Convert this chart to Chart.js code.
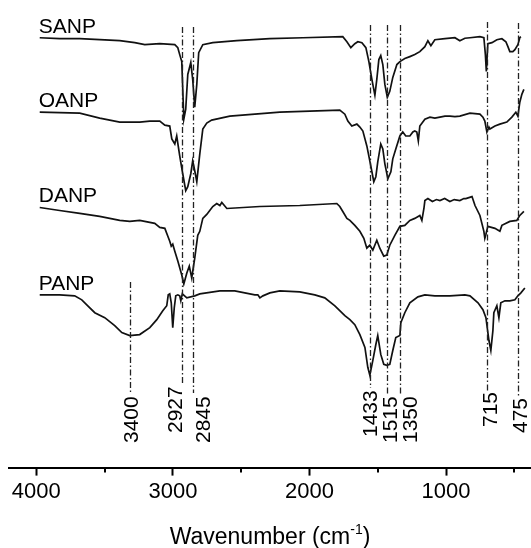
<!DOCTYPE html>
<html>
<head>
<meta charset="utf-8">
<script src="https://cdn.jsdelivr.net/npm/chart.js@4.4.0/dist/chart.umd.min.js"></script>
<style>
  html, body { margin: 0; padding: 0; background: #fff; }
  #wrap { width: 531px; height: 548px; }
</style>
</head>
<body>
<div id="wrap"><canvas id="ftir" width="531" height="548"></canvas></div>
<script>
// FTIR spectra: x = wavenumber (cm-1), y = stacked transmittance (a.u.)
const seriesNames = ['SANP', 'OANP', 'DANP', 'PANP'];

const sanpX = [3975,3829,3682,3389,3279,3206,3096,2986,2964,2950,2935,2920,2906,2891,2869,2855,2840,2825,2811,2781,2708,2532,2290,2048,1756,1726,1697,1668,1646,1616,1587,1565,1543,1521,1507,1492,1478,1463,1448,1430,1412,1390,1360,1338,1302,1265,1229,1192,1155,1133,1111,1082,1008,935,899,862,825,752,723,712,705,694,664,628,591,562,547,533,511,496,474,460,452];
const sanpY = [433,432,432,430,428,426,427,426,423,416,409,351,361,396,408,391,363,386,418,426,428,430,432,433,434,429,423,427,429,428,423,409,391,375,391,411,415,406,386,373,379,393,406,409,412,414,416,419,424,430,425,431,432,433,430,432.5,433,434,433,416,399,427,428,431,432,429,424,419,419,421,426,433,434];

const oanpX = [3975,3682,3536,3389,3243,3169,3096,3059,3023,3008,2986,2972,2950,2928,2906,2891,2869,2855,2840,2825,2811,2803,2781,2752,2716,2583,2217,1778,1741,1719,1690,1653,1631,1609,1580,1551,1529,1514,1500,1478,1463,1448,1426,1404,1390,1368,1338,1317,1295,1265,1243,1229,1214,1203,1192,1155,1118,1082,1045,1008,972,935,899,825,752,730,716,701,686,679,642,606,555,518,489,474,460,445,430];
const oanpY = [358,357,352,348,348,349,349,345,344,331,326,334,314,296,279,283,296,309,299,288,306,316,341,347,350,354,358,360,356,349,344,346,343,339,324,304,288,293,308,326,321,306,291,298,311,321,334,338,334,334,338,339,338,329,344,351,353,352,353,354,354,353.5,354,357,356,353,349,338,343,341,344,346,348,353,358,354,368,376,381];

const danpX = [3975,3829,3682,3536,3389,3316,3243,3133,3096,3059,3037,3023,3012,3001,2986,2964,2935,2920,2898,2880,2862,2840,2818,2803,2781,2752,2730,2708,2679,2656,2642,2605,2363,2071,1800,1778,1756,1726,1704,1668,1631,1602,1580,1558,1536,1507,1485,1456,1434,1412,1375,1338,1302,1265,1229,1192,1177,1162,1155,1133,1100,1070,1045,1010,972,940,899,870,855,810,788,752,723,716,708,694,642,606,591,533,482,460,430];
const danpY = [262,259,256,253,249,248,249,246,242,241,233,228,223,225,218,208,194,185,196,203,191,211,234,238,251,255,259,263,266,264,267,261,263,264,266,263,258,251,249,244,238,231,221,224,219,229,221,213,214,224,234,243,244,249,251,254,249,261,269,271,268,270,269,271,268,270,269,271,271,273,264,254,238,231,235,243,241,238,244,248,249,254,258];

const panpX = [3975,3829,3719,3667,3623,3572,3499,3426,3374,3316,3243,3169,3118,3074,3045,3034,3023,3012,3001,2990,2979,2964,2950,2942,2931,2898,2840,2803,2656,2547,2400,2378,2363,2341,2290,2217,2071,1961,1888,1814,1741,1704,1668,1631,1594,1573,1558,1536,1514,1500,1478,1456,1434,1412,1390,1368,1338,1331,1302,1265,1206,1155,1082,972,862,825,766,730,708,686,672,657,650,628,613,599,569,533,496,474,452,423];
const panpY = [174,174,173,169,163,156,151,143,136,133,134,141,149,158,163,174,175,166,141,161,173,174,173,168,175,171,173,175,178,178,174,174,171,173,176,178,177,174,171,163,153,149,144,134,121,101,93,108,124,133,114,104,103,104,118,131,133,146,156,166,172,174,173,173,174,173,166,159,151,128,118,138,156,163,151,166,168,168,169,173,176,181];

// dash-dot marker lines and the band labels printed under them
const markerX = [3316, 2930, 2850, 1558, 1434, 1338, 701, 474];
const markerLabels = ['3400', '2927', '2845', '1433', '1515', '1350', '715', '475'];

const tickValues = [4000, 3500, 3000, 2500, 2000, 1500, 1000, 500];

const FONT = '"Liberation Sans", Arial, sans-serif';
Chart.defaults.font.family = FONT;
Chart.defaults.color = '#000';

const xs = [sanpX, oanpX, danpX, panpX];
const ys = [sanpY, oanpY, danpY, panpY];

const datasets = seriesNames.map((name, k) => ({
    label: name,
    data: xs[k].map((x, i) => ({ x: x, y: ys[k][i] })),
    borderColor: '#111',
    borderWidth: 1.7,
    pointRadius: 0,
    tension: 0,
    fill: false
}));

// per-marker drawing geometry (pixels): line top / bottom, label start, label shift
const markerStyle = [
    { top: 282, bottom: 392, base: 443, dx: 8 },
    { top: 27, bottom: 385, base: 433, dx: 0 },
    { top: 27, bottom: 393, base: 443, dx: 17 },
    { top: 25, bottom: 388, base: 437, dx: 7 },
    { top: 25, bottom: 396, base: 443, dx: 10 },
    { top: 25, bottom: 396, base: 443, dx: 17 },
    { top: 22, bottom: 391, base: 427, dx: 10 },
    { top: 23, bottom: 396, base: 433, dx: 9 }
];

const overlay = {
    id: 'overlay',
    afterDatasetsDraw(chart) {
        const ctx = chart.ctx;
        const sx = chart.scales.x, sy = chart.scales.y;
        ctx.save();

        // marker lines
        ctx.strokeStyle = '#222';
        ctx.lineWidth = 1.3;
        ctx.setLineDash([6, 2.5, 1.5, 2.5]);
        markerX.forEach((w, i) => {
            const px = Math.round(sx.getPixelForValue(w)) + 0.5;
            const s = markerStyle[i];
            ctx.beginPath();
            ctx.moveTo(px, s.top);
            ctx.lineTo(px, s.bottom);
            ctx.stroke();
        });
        ctx.setLineDash([]);

        // rotated band labels
        ctx.fillStyle = '#000';
        ctx.font = '21px ' + FONT;
        ctx.textAlign = 'left';
        ctx.textBaseline = 'alphabetic';
        markerX.forEach((w, i) => {
            const s = markerStyle[i];
            ctx.save();
            ctx.translate(sx.getPixelForValue(w) + s.dx, s.base);
            ctx.rotate(-Math.PI / 2);
            ctx.fillText(markerLabels[i], 0, 0);
            ctx.restore();
        });

        // series names above the start of each trace
        seriesNames.forEach((name, k) => {
            const px = sx.getPixelForValue(xs[k][0]);
            const py = sy.getPixelForValue(ys[k][0]);
            ctx.fillText(name, px - 1, py - 5);
        });

        // minor ticks (shorter than the labelled ones)
        ctx.strokeStyle = '#000';
        ctx.lineWidth = 2;
        tickValues.filter(v => v % 1000 !== 0).forEach(v => {
            const px = Math.round(sx.getPixelForValue(v));
            ctx.beginPath();
            ctx.moveTo(px, sx.top);
            ctx.lineTo(px, sx.top + 5);
            ctx.stroke();
        });

        // axis title with superscript
        const a = 'Wavenumber (cm', sup = '-1', b = ')';
        ctx.font = '23px ' + FONT;
        const wa = ctx.measureText(a).width, wb = ctx.measureText(b).width;
        ctx.font = '14px ' + FONT;
        const ws = ctx.measureText(sup).width;
        const cx = (chart.chartArea.left + chart.chartArea.right) / 2;
        let tx = cx - (wa + ws + wb) / 2;
        const base = 544;
        ctx.font = '23px ' + FONT;
        ctx.fillText(a, tx, base);
        ctx.font = '14px ' + FONT;
        ctx.fillText(sup, tx + wa, base - 10);
        ctx.font = '23px ' + FONT;
        ctx.fillText(b, tx + wa + ws, base);

        ctx.restore();
    }
};

new Chart(document.getElementById('ftir'), {
    type: 'line',
    data: { datasets: datasets },
    options: {
        responsive: false,
        animation: false,
        devicePixelRatio: 1,
        layout: { padding: { left: 9, right: 0, top: 0, bottom: 40 } },
        plugins: { legend: { display: false }, tooltip: { enabled: false } },
        scales: {
            x: {
                type: 'linear',
                reverse: true,
                min: 378,
                max: 4200,
                afterBuildTicks: scale => { scale.ticks = tickValues.map(v => ({ value: v })); },
                ticks: {
                    font: { size: 22 },
                    color: '#000',
                    padding: 3,
                    maxRotation: 0,
                    autoSkip: false,
                    callback: v => (v % 1000 === 0 ? String(v) : '')
                },
                grid: {
                    drawOnChartArea: false,
                    drawTicks: true,
                    tickLength: 8,
                    tickWidth: 2,
                    tickColor: c => (c.tick && c.tick.value % 1000 === 0 ? '#000' : 'rgba(0,0,0,0)')
                },
                border: { display: true, color: '#000', width: 2 }
            },
            y: {
                display: false,
                min: 0,
                max: 471
            }
        }
    },
    plugins: [overlay]
});
</script>
</body>
</html>
